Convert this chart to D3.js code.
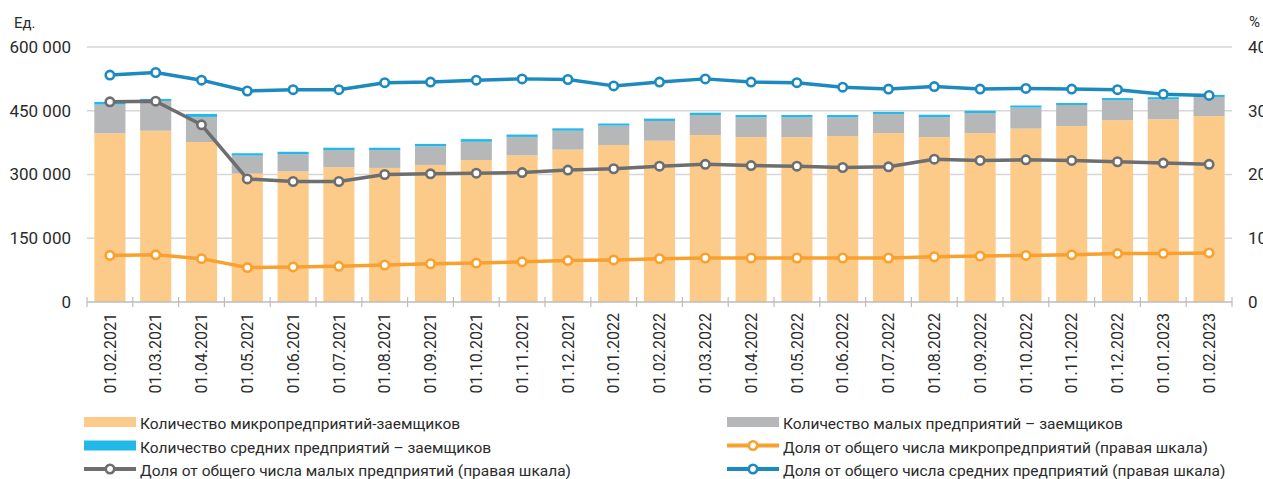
<!DOCTYPE html>
<html>
<head>
<meta charset="utf-8">
<script src="https://cdn.jsdelivr.net/npm/d3@7"></script>
<style>
  html, body { margin: 0; padding: 0; background: #fff; }
  svg { display: block; font-family: Roboto, "Liberation Sans", Arial, sans-serif; }
</style>
</head>
<body>
<svg id="chart" width="1263" height="479"></svg>
<script>
const dates = ["01.02.2021","01.03.2021","01.04.2021","01.05.2021","01.06.2021","01.07.2021","01.08.2021","01.09.2021","01.10.2021","01.11.2021","01.12.2021","01.01.2022","01.02.2022","01.03.2022","01.04.2022","01.05.2022","01.06.2022","01.07.2022","01.08.2022","01.09.2022","01.10.2022","01.11.2022","01.12.2022","01.01.2023","01.02.2023"];
const microCount = [397000,403000,376500,302000,307500,317000,315500,322500,334000,345000,358500,369500,379500,393000,388000,388000,390500,397500,388000,397500,408000,414000,428000,430000,437500];
const smallCount = [67500,70000,59000,42500,40500,40500,42000,44000,43000,43500,44500,45500,46500,47000,46500,46500,44000,45000,47000,47000,49500,49500,47000,47000,45000];
const mediumCount = [6300,4800,7000,5500,5500,5500,5500,5500,6200,5500,5600,4900,5500,5400,5400,5400,5400,4900,5600,5400,4800,4800,4800,4800,4800];
const microShare = [7.3,7.4,6.8,5.4,5.5,5.6,5.8,6.0,6.1,6.3,6.5,6.6,6.8,6.9,6.9,6.9,6.9,6.9,7.1,7.2,7.3,7.4,7.6,7.6,7.7];
const smallShare = [31.4,31.5,27.8,19.3,18.9,18.9,20.0,20.1,20.2,20.3,20.7,20.9,21.3,21.6,21.4,21.3,21.1,21.2,22.4,22.2,22.3,22.2,22.0,21.8,21.6];
const mediumShare = [35.6,36.0,34.8,33.1,33.3,33.3,34.4,34.5,34.8,35.0,34.9,33.9,34.5,35.0,34.5,34.4,33.7,33.4,33.8,33.4,33.5,33.4,33.3,32.6,32.4];
const leftTicks = [0,150000,300000,450000,600000];
const rightTicks = [0,10,20,30,40];
const legendLabels = [
  "Количество микропредприятий-заемщиков",
  "Количество малых предприятий  – заемщиков",
  "Количество средних предприятий  – заемщиков",
  "Доля от общего числа микропредприятий (правая шкала)",
  "Доля от общего числа малых предприятий (правая шкала)",
  "Доля от общего числа средних предприятий (правая шкала)"
];

const C = {
  micro: "#fdcb89", small: "#b6b7b9", medium: "#22b8ea",
  microLine: "#f8a12e", smallLine: "#6d6e70", mediumLine: "#1d8abf",
  grid: "#d6d6d6", axis: "#bdbdbd", text: "#2b2b2b"
};

const svg = d3.select("#chart");
const L = 87, R = 1232, T = 47, B = 302;

const x = d3.scaleBand().domain(dates).range([L, R]).paddingInner(0.32).paddingOuter(0.16);
const yL = d3.scaleLinear().domain([0, 600000]).range([B, T]);
const yR = d3.scaleLinear().domain([0, 40]).range([B, T]);

// gridlines
svg.append("g").selectAll("line").data(leftTicks.filter(d => d > 0)).join("line")
  .attr("x1", L).attr("x2", R).attr("y1", d => yL(d)).attr("y2", d => yL(d))
  .attr("stroke", C.grid).attr("stroke-width", 1.5);

// left axis labels
const leftAxis = d3.axisLeft(yL).tickValues(leftTicks).tickSize(0).tickPadding(0)
  .tickFormat(d => d3.format(",")(d).replace(/,/g, " "));
const gL = svg.append("g").attr("transform", "translate(71,0)").call(leftAxis);
gL.select(".domain").remove();
gL.selectAll("text").attr("font-size", 17).attr("fill", C.text).attr("font-family", "Roboto");

// right axis labels
const rightAxis = d3.axisRight(yR).tickValues(rightTicks).tickSize(0).tickPadding(0);
const gR = svg.append("g").attr("transform", "translate(1248,0)").call(rightAxis);
gR.select(".domain").remove();
gR.selectAll("text").attr("font-size", 17).attr("fill", C.text).attr("font-family", "Roboto");

// unit titles
svg.append("text").attr("x", 14).attr("y", 28).text("Ед.").attr("font-size", 15).attr("fill", C.text);
svg.append("text").attr("x", 1249).attr("y", 27).text("%").attr("font-size", 15).attr("fill", C.text);

// stacked bars
const rows = dates.map((d, i) => ({ date: d, micro: microCount[i], small: smallCount[i], medium: mediumCount[i] }));
const stack = d3.stack().keys(["micro", "small", "medium"])(rows);
const barColors = { micro: C.micro, small: C.small, medium: C.medium };
svg.append("g").selectAll("g").data(stack).join("g")
  .attr("fill", s => barColors[s.key])
  .selectAll("rect").data(s => s).join("rect")
  .attr("x", d => x(d.data.date)).attr("width", x.bandwidth())
  .attr("y", d => yL(d[1])).attr("height", d => yL(d[0]) - yL(d[1]));

// x axis line and ticks
svg.append("line").attr("x1", L).attr("x2", R).attr("y1", B).attr("y2", B)
  .attr("stroke", C.axis).attr("stroke-width", 1.5);
const bounds = d3.range(dates.length + 1).map(i => x.range()[0] + i * x.step());
svg.append("g").selectAll("line").data(bounds).join("line")
  .attr("x1", d => d).attr("x2", d => d).attr("y1", B - 5).attr("y2", B + 5)
  .attr("stroke", C.axis).attr("stroke-width", 1.2);

// x labels
svg.append("g").selectAll("text").data(dates).join("text")
  .attr("transform", d => `translate(${x(d) + x.bandwidth() / 2},313) rotate(-90)`)
  .attr("text-anchor", "end").attr("dy", "0.36em")
  .attr("font-size", 16).attr("fill", C.text).text(d => d);

// lines
const lineSeries = [
  { vals: mediumShare, color: C.mediumLine },
  { vals: smallShare, color: C.smallLine },
  { vals: microShare, color: C.microLine }
];
const line = d3.line().x((d, i) => x(dates[i]) + x.bandwidth() / 2).y(d => yR(d));
lineSeries.forEach(s => {
  svg.append("path").datum(s.vals).attr("d", line).attr("fill", "none")
    .attr("stroke", s.color).attr("stroke-width", 3.5).attr("stroke-linejoin", "round");
  svg.append("g").selectAll("circle").data(s.vals).join("circle")
    .attr("cx", (d, i) => x(dates[i]) + x.bandwidth() / 2).attr("cy", d => yR(d))
    .attr("r", 4.2).attr("fill", "#fff").attr("stroke", s.color).attr("stroke-width", 2.6);
});

// legend
const legendItems = [
  { label: legendLabels[0], type: "rect", color: C.micro, col: 0, row: 0 },
  { label: legendLabels[1], type: "rect", color: C.small, col: 1, row: 0 },
  { label: legendLabels[2], type: "rect", color: C.medium, col: 0, row: 1 },
  { label: legendLabels[3], type: "line", color: C.microLine, col: 1, row: 1 },
  { label: legendLabels[4], type: "line", color: C.smallLine, col: 0, row: 2 },
  { label: legendLabels[5], type: "line", color: C.mediumLine, col: 1, row: 2 }
];
const colX = [84, 727], rowY = [422, 445.5, 469];
const lg = svg.append("g").selectAll("g").data(legendItems).join("g")
  .attr("transform", d => `translate(${colX[d.col]},${rowY[d.row]})`);
lg.filter(d => d.type === "rect").append("rect")
  .attr("x", 0).attr("y", -5).attr("width", 52).attr("height", 10).attr("fill", d => d.color);
lg.filter(d => d.type === "line").append("line")
  .attr("x1", 0).attr("x2", 52).attr("y1", 0).attr("y2", 0)
  .attr("stroke", d => d.color).attr("stroke-width", 4);
lg.filter(d => d.type === "line").append("circle")
  .attr("cx", 26).attr("cy", 0).attr("r", 4.2).attr("fill", "#fff")
  .attr("stroke", d => d.color).attr("stroke-width", 2.6);
lg.append("text").attr("x", 56).attr("y", 7).attr("font-size", 15.5)
  .attr("fill", C.text).text(d => d.label);
</script>
</body>
</html>
